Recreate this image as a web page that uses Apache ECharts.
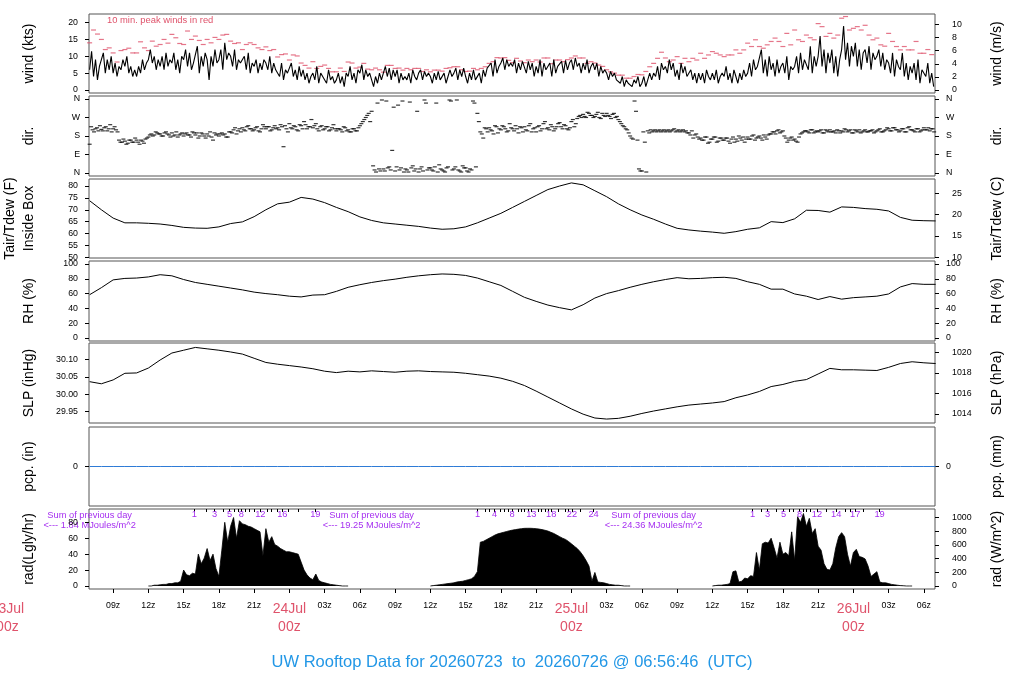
<!DOCTYPE html>
<html>
<head>
<meta charset="utf-8">
<title>UW Rooftop Data</title>
<script src="https://cdn.jsdelivr.net/npm/echarts@6.0.0/dist/echarts.min.js"></script>
<style>
  html, body { margin: 0; padding: 0; background: #fff; }
  #chart { width: 1024px; height: 700px; }
</style>
</head>
<body>
<div id="chart"></div>
<script>
const DAY0 = Date.UTC(2026, 6, 23); // 23Jul 00z
const HOUR = 3600 * 1000;
const X_MIN = Date.UTC(2026, 6, 23, 6, 56, 46);
const X_MAX = Date.UTC(2026, 6, 26, 6, 56, 46);
const MONTHS = ['Jan', 'Feb', 'Mar', 'Apr', 'May', 'Jun', 'Jul', 'Aug', 'Sep', 'Oct', 'Nov', 'Dec'];
const FONT = 'Liberation Sans, Arial, Helvetica, sans-serif';

// all series start at 23Jul 07z (hours counted from 23Jul 00z)
const DATA_START = 7;

// wind speed (kts), every 10 min
const windKts = [
  6, 11.5, 4, 9, 3, 7,   9, 11, 5, 9, 6, 10,   5, 8, 4, 7, 6, 9,   7, 10, 5, 7, 4, 6,
  4, 7, 5, 9, 6, 8,   9, 12, 8, 10, 6, 9,   7, 10, 6, 11, 7, 9,   8, 11, 6, 9, 5, 10,
  9, 12, 7, 11, 6, 8,   8, 13, 5, 10, 7, 11,   9, 3, 10, 7, 12, 8,   9, 12, 6, 14, 9, 11,
  10, 7, 12, 6, 9, 8,   8, 10, 6, 11, 5, 8,   7, 9, 5, 8, 6, 9,   8, 6, 10, 5, 8, 6,
  6, 4, 8, 3, 6, 5,   5, 8, 4, 6, 3, 7,   4, 6, 3, 5, 2, 4,   5, 3, 7, 2, 5, 4,
  4, 2, 6, 3, 4, 2,   3, 5, 2, 4, 1, 5,   4, 7, 3, 5, 2, 6,   5, 7.5, 3, 6, 4, 5,
  3, 1, 4, 2, 5, 3,   5, 7, 4, 6.5, 3, 6,   4, 6, 2, 5, 3, 4,   3, 5, 2, 6, 4, 3,
  5, 6, 3, 5.5, 4, 5,   4, 2, 5, 3, 5.5, 3,   3, 5, 2, 4, 6, 4,   5, 6.5, 3, 6, 4, 6.5,
  4, 2, 5, 3, 6, 3,   3, 5, 2, 6, 4, 6.5,   6, 8, 4, 9, 5, 7,   8, 9.5, 6, 9, 7, 8,
  7, 9, 5, 8, 6, 8.5,   8, 5, 8.5, 6, 8, 4,   7, 5, 9, 4, 8, 6,   6, 8, 4, 9, 5, 7,
  7, 8.5, 5, 8.8, 6, 8,   9, 6, 9.5, 7, 8, 5,   8, 6, 9, 5, 7, 8,   6, 8, 4, 7, 5, 6,
  5, 3, 5.5, 4, 5, 3,   3, 2, 4, 1, 3, 2,   2, 1, 3, 2, 4, 1,   2, 4, 1, 3, 5, 3,
  5, 4, 7, 3, 8, 6,   7, 5, 9, 6, 8, 4,   6, 3, 8, 5, 7, 4,   4, 6, 3, 5, 2, 5,
  3, 5, 2, 6, 4, 3,   5, 3, 6, 2, 4, 5,   4, 7, 3, 5, 2, 6,   4, 2, 5, 3, 6, 4,
  5, 8, 4, 9, 6, 7,   7, 12, 5, 9, 4, 10,   6, 8, 4, 9, 5, 7,   8, 5, 10, 3, 7, 6,
  7, 10, 5, 11, 6, 9,   9, 6, 13, 5, 10, 7,   10, 16, 7, 12, 5, 11,   8, 12, 5, 10, 4, 9,
  12, 19, 9, 14, 7, 13,   10, 14, 7, 12, 6, 11,   12, 8, 13, 6, 11, 9,   10, 12, 7, 11, 6, 9,
  8, 5, 11, 4, 9, 7,   6, 11, 4, 8, 3, 7,   5, 8, 3, 9, 2, 6,   6, 4, 8, 2, 5, 1
];

// 10 min. peak wind (kts), every 20 min
const peakKts = [
  14, 17.8, 16.6,  15, 12, 12.5,  11, 8.3, 11.7,  12, 12.4, 11,  11, 14.3, 12.5,  11.7, 14.5, 13,
  13.5, 15, 13.9,  16.5, 15.5, 13.8,  13.5, 17.5, 15,  16, 14.7, 13.5,  15, 14, 15.6,  15, 16.3, 16.5,
  14.5, 13.8, 14,  12, 13.5, 14,  13.5, 12.5, 12,  12.8, 11.7, 12,  9.8, 10.5, 10.7,  8.9, 10.4, 10.1,
  8, 7.3, 6.5,  8.4, 6.4, 7,  7.4, 6.4, 5.4,  5.4, 6.5, 5.5,  8.3, 8.0, 6.5,  6.8, 7.9, 6.2,
  6.0, 6.5, 6.0,  5.3, 7.3, 7.3,  6.4, 6.5, 5.9,  6.4, 6.0, 6.4,  6.4, 5.5, 6.0,  5.4, 5.9, 5.9,
  5.6, 6.4, 6.6,  6.9, 6.9, 6.0,  5.5, 5.6, 6.4,  6.0, 6.4, 6.9,  7.9, 8.4, 9.6,  9.5, 9.6, 8.8,
  8.1, 9.4, 8.6,  8.1, 8.9, 8.4,  8.9, 8.3, 9.5,  9.5, 7.8, 8.9,  8.9, 8.4, 9.0,  9.5, 10.1, 9.5,
  9.5, 7.9, 8.4,  8.0, 7.4, 7.0,  6.0, 5.4, 5.0,  4.4, 4.4, 3.5,  3.5, 4.0, 4.6,  4.5, 5.5, 6.9,
  7.9, 9.4, 11.2,  9.5, 8.4, 8.9,  9.9, 7.9, 9.4,  8.4, 9.4, 8.9,  10.9, 9.4, 10.4,  11.4, 10.9, 10.4,
  9.9, 10.4, 10.4,  11.9, 10.9, 11.9,  13.9, 12.9, 14.9,  12.9, 12.4, 13.4,  14.4, 15.4, 14.4,  12.9, 16.8, 13.4,
  17.8, 14.9, 14.4,  16.3, 15.5, 14.9,  19.7, 18.8, 15.9,  16.8, 15.4, 16.3,  21.3, 21.8, 17.8,  18.3, 18.8, 17.8,
  19.2, 16.3, 14.9,  15.4, 13.4, 13.0,  16.8, 14.4, 12.9,  11.9, 12.9, 11.9,  11.9, 14.4, 10.9,  10.9, 12.0, 10.5
];

// wind direction (deg), every 15 min on the quarter hour
const windDir = [
  140, 210, 215, 205,  212, 220, 205, 235,  215, 210, 160, 150,  155, 145, 160, 150,
  160, 140, 155, 165,  175, 190, 185, 195,  190, 180, 200, 185,  195, 185, 175, 190,
  180, 195, 185, 200,  185, 170, 195, 180,  190, 200, 160, 185,  180, 195, 190, 175,
  200, 210, 190, 215,  220, 205, 230, 215,  210, 225, 200, 235,  215, 225, 210, 230,
  220, 235, 128, 215,  240, 215, 225, 205,  230, 250, 215, 225,  220, 240, 205, 230,
  215, 225, 210, 235,  205, 215, 200, 220,  210, 200, 215, 205,  230, 250, 270, 290,
  300, 15, 340, 10,  20, 350, 30, 110,  10, 330, 25, 5,  15, 345, 35, 20,
  5, 30, 355, 15,  25, 10, 340, 40,  15, 5, 30, 350,  20, 355, 10, 35,
  25, 5, 15, 340,  290, 200, 170, 215,  220, 205, 230, 195,  210, 225, 200, 240,
  215, 230, 195, 220,  225, 205, 240, 215,  200, 230, 215, 250,  220, 235, 205, 225,
  245, 215, 230, 210,  250, 225, 265, 280,  285, 270, 290, 280,  275, 295, 265, 280,
  290, 275, 285, 270,  260, 240, 225, 210,  180, 165, 300, 20,  10, 150, 205, 210,
  205, 200, 210, 205,  200, 210, 205, 215,  205, 200, 210, 205,  195, 205, 185, 175,
  170, 160, 175, 150,  165, 175, 155, 170,  160, 170, 145, 175,  165, 180, 160, 150,
  175, 165, 185, 170,  180, 160, 175, 185,  190, 200, 205, 195,  205, 170, 160, 175,
  165, 150, 190, 200,  205, 195, 210, 200,  200, 210, 195, 205,  210, 200, 195, 205,
  205, 215, 200, 210,  195, 205, 210, 200,  210, 200, 205, 195,  205, 215, 200, 210,
  215, 205, 220, 210,  205, 215, 200, 225,  210, 200, 215, 205,  220, 210, 205, 215
];
// wind direction (deg), every 15 min, 7.5 min after the quarter hour
const windDirB = [
  225, 200, 220, 230,  205, 225, 215, 200,  225, 200, 150, 165,  140, 160, 150, 170,
  150, 160, 145, 170,  185, 180, 200, 190,  180, 195, 190, 175,  180, 200, 185, 195,
  190, 185, 175, 195,  195, 180, 190, 170,  180, 175, 195, 190,  190, 185, 175, 200,
  195, 220, 205, 200,  210, 225, 215, 205,  220, 205, 215, 225,  225, 205, 220, 215,
  210, 225, 230, 200,  220, 230, 210, 235,  215, 235, 225, 260,  230, 215, 225, 210,
  225, 205, 220, 215,  215, 210, 225, 205,  200, 215, 205, 220,  240, 260, 280, 250,
  35, 5, 20, 355,  10, 25, 15, 320,  30, 15, 350, 20,  5, 25, 10, 300,
  20, 10, 340, 25,  15, 30, 5, 20,  10, 25, 355, 15,  30, 15, 5, 25,
  10, 20, 350, 30,  250, 190, 220, 200,  210, 190, 225, 215,  230, 215, 205, 220,
  205, 215, 225, 200,  210, 230, 200, 220,  225, 205, 240, 215,  210, 225, 215, 240,
  225, 235, 215, 220,  260, 240, 275, 270,  275, 295, 280, 270,  285, 270, 290, 275,
  280, 265, 290, 275,  250, 230, 215, 195,  170, 350, 160, 10,  200, 5, 195, 200,
  210, 205, 200, 210,  205, 200, 210, 200,  210, 205, 200, 195,  185, 170, 190, 165,
  160, 175, 145, 165,  175, 150, 170, 160,  170, 155, 165, 150,  155, 170, 175, 165,
  165, 180, 160, 175,  170, 185, 165, 190,  200, 190, 210, 200,  180, 150, 170, 160,
  155, 175, 195, 205,  200, 210, 195, 205,  205, 195, 210, 200,  200, 205, 210, 195,
  200, 210, 205, 195,  210, 200, 195, 205,  200, 205, 210, 200,  210, 200, 205, 220,
  205, 220, 210, 200,  215, 200, 220, 210,  205, 215, 200, 210,  210, 220, 215, 200
];

// hourly values
const tairF = [
  73.8, 70.0, 66.5, 64.5, 64.5, 64.3, 64.0, 63.4, 62.6, 62.3, 62.2, 62.8, 64.2, 64.9, 67.1, 70.0,
  72.5, 73.2, 75.2, 74.5, 73.0, 71.0, 69.2, 67.0, 65.5, 64.5, 64.0, 63.5, 63.0, 62.3, 61.8, 62.0,
  62.8, 64.5, 66.5, 68.5, 71.0, 73.5, 76.0, 78.5, 80.0, 81.3, 80.5, 78.0, 75.5, 72.5, 70.0, 67.8,
  66.0, 64.0, 62.2, 61.5, 61.0, 60.6, 60.1, 60.8, 61.8, 62.4, 65.0, 64.6, 66.2, 69.8, 69.7, 69.0,
  71.2, 71.0, 70.5, 70.2, 69.5, 66.8, 65.6, 65.4, 65.3
];
const rhPct = [
  58.5, 68, 78.5, 80.5, 81, 82.5, 85.5, 84, 79, 75, 72.5, 70, 67.5, 65, 62, 60,
  58.5, 56.5, 55.5, 58, 58.5, 63, 68.5, 72, 75, 77.5, 79.5, 82, 84, 85.5, 86.5, 86,
  84.5, 81, 76, 71, 63, 55, 49.5, 44.5, 41, 38, 45, 54, 60, 64, 68.5, 72.5,
  76, 79, 81.5, 80, 80.5, 81.5, 82, 80.5, 76, 72.5, 66, 66, 59.5, 56.5, 52, 56,
  52.5, 54.5, 55.5, 56.5, 59.5, 69, 73.5, 72.5, 72.5
];
const slpInHg = [
  30.036, 30.030, 30.041, 30.060, 30.061, 30.075, 30.098, 30.118, 30.126, 30.134, 30.130, 30.126,
  30.121, 30.115, 30.103, 30.091, 30.086, 30.082, 30.078, 30.073, 30.066, 30.062, 30.066, 30.064,
  30.067, 30.065, 30.063, 30.066, 30.067, 30.065, 30.064, 30.063, 30.060, 30.056, 30.052, 30.046,
  30.037, 30.025, 30.009, 29.992, 29.975, 29.958, 29.943, 29.932, 29.929, 29.931, 29.937, 29.945,
  29.952, 29.958, 29.964, 29.969, 29.972, 29.975, 29.979, 29.990, 29.998, 30.008, 30.022, 30.028,
  30.037, 30.042, 30.058, 30.074, 30.070, 30.070, 30.069, 30.068, 30.077, 30.088, 30.093, 30.090,
  30.088
];
const pcpIn = [
  0, 0, 0, 0, 0, 0, 0, 0, 0, 0, 0, 0, 0, 0, 0, 0, 0, 0, 0, 0, 0, 0, 0, 0,
  0, 0, 0, 0, 0, 0, 0, 0, 0, 0, 0, 0, 0, 0, 0, 0, 0, 0, 0, 0, 0, 0, 0, 0,
  0, 0, 0, 0, 0, 0, 0, 0, 0, 0, 0, 0, 0, 0, 0, 0, 0, 0, 0, 0, 0, 0, 0, 0, 0
];

// solar radiation (Lgly/hr), every 15 min from 12z of each day
const radStartHours = [12, 36, 60];
const radDay1 = [
  0, 0, 1, 1, 1.5, 2, 2, 3, 3, 4, 4, 6,
  20, 14, 13, 16, 15, 40, 28, 35, 47, 32, 40, 22,
  12, 45, 80, 55, 75, 86, 60, 82, 78, 77, 75, 74,
  72, 70, 68, 38, 72, 55, 62, 52, 50, 47, 45, 43,
  43, 42, 41, 40, 30, 20, 14, 10, 8, 15, 7, 5,
  4, 3, 2, 1.5, 1, 0.5, 0, 0, 0
];
const radDay2 = [
  0, 0.5, 1, 1.5, 2, 2.5, 3, 3.5, 4, 5, 5.5, 6,
  7, 8, 9, 12, 18, 55, 56, 58, 60, 62, 64, 65.5,
  66.5, 67.5, 68.5, 69.5, 70.2, 70.8, 71.5, 72, 72.4, 72.5, 72.5, 72.3,
  72, 71.5, 70.8, 70, 69, 67.5, 66, 64, 62, 60, 58.5, 56,
  53, 50, 47, 43, 38, 32, 25, 6, 17, 5, 4.5, 4,
  3, 2, 1.5, 1, 1, 0.5, 0, 0, 0
];
const radDay3 = [
  0, 0.5, 1, 1, 1.5, 2, 3, 18, 19, 5, 6, 10,
  9, 13, 12, 42, 20, 53, 55, 54, 60, 48, 35, 55,
  40, 42, 38, 68, 32, 87, 80, 91, 75, 85, 66, 72,
  50, 45, 28, 21, 20, 28, 48, 62, 67, 62, 40, 25,
  42, 46, 37, 36, 34, 25, 12, 15, 18, 5, 4, 4,
  3, 2, 1.5, 1, 0.5, 0.3, 0, 0, 0
];

// running daily radiation sum (MJ/m^2): hours of each whole-number crossing
const radSumTickHours = [
  [15.92, 16.94, 17.64, 18.36, 18.92, 19.32, 19.62, 19.92, 20.26, 20.60, 21.02, 21.53,
   22.15, 22.47, 22.95, 23.40, 23.94, 24.79, 26.21],
  [40.02, 40.68, 41.02, 41.47, 41.95, 42.32, 42.61, 42.95, 43.46, 43.74, 44.02, 44.31,
   44.59, 45.16, 45.44, 45.78, 46.06, 46.29, 46.91, 47.48, 47.76, 48.05, 48.76, 49.89],
  [63.42, 64.13, 64.70, 65.43, 66.06, 66.57, 66.91, 67.42, 67.71, 67.99, 68.33, 68.90,
   69.69, 70.54, 71.31, 71.73, 72.16, 72.87, 74.23]
];
const radSumShown = [
  [1, 3, 5, 8, 12, 16, 19],
  [1, 4, 8, 13, 18, 22, 24],
  [1, 3, 5, 8, 12, 14, 17, 19]
];
const prevDayHours = [7, 31, 55];
const prevDayMJ = ['1.84', '19.25', '24.36'];

// axis ticks
const xTickHours = [9, 12, 15, 18, 21, 24, 27, 30, 33, 36, 39, 42, 45, 48, 51, 54, 57, 60, 63, 66, 69, 72, 75, 78];
const windKtsTicks = [0, 5, 10, 15, 20];
const windMsTicks = [0, 2, 4, 6, 8, 10];
const dirTicks = [0, 90, 180, 270, 360];
const dirLabels = ['N', 'E', 'S', 'W', 'N'];
const tempFTicks = [50, 55, 60, 65, 70, 75, 80];
const tempCTicks = [10, 15, 20, 25];
const rhTicks = [0, 20, 40, 60, 80, 100];
const slpInTicks = [29.95, 30.00, 30.05, 30.10];
const slpHpaTicks = [1014, 1016, 1018, 1020];
const pcpTicks = [0];
const radLyTicks = [0, 20, 40, 60, 80];
const radWTicks = [0, 200, 400, 600, 800, 1000];

const RED = '#DF536B';
const PURPLE = '#A52EF0';
const BLUE = '#2297E6';

const ts = (h) => Math.round(DAY0 + h * HOUR);
const toSeries = (arr, startHour, stepHours) => arr.map((v, i) => [ts(startHour + i * stepHours), v]);

const chartDom = document.getElementById('chart');
const chart = echarts.init(chartDom, null, { renderer: 'canvas' });

const panels = [
  { top: 14, height: 79 },
  { top: 96, height: 80 },
  { top: 179, height: 79 },
  { top: 261, height: 80 },
  { top: 343, height: 80 },
  { top: 427, height: 79 },
  { top: 509, height: 80 }
];

const grid = panels.map((p) => ({
  left: 89, right: 89, top: p.top, height: p.height,
  outerBoundsMode: 'none', containLabel: false,
  show: true, borderColor: '#555', borderWidth: 1, backgroundColor: 'transparent'
}));

function yAx(gridIndex, position, min, max, ticks, name, opts = {}) {
  return {
    type: 'value', gridIndex, position, min, max,
    name, nameLocation: 'middle', nameGap: position === 'left' ? 50 : 53, nameRotate: 90,
    nameTextStyle: { fontSize: 14, color: '#000', fontFamily: FONT, lineHeight: 19 },
    axisLine: { show: false, onZero: false },
    splitLine: { show: false },
    axisTick: { show: true, length: 4, customValues: ticks, lineStyle: { color: '#000' } },
    axisLabel: {
      customValues: ticks, fontSize: 8.8, color: '#000', fontFamily: FONT,
      margin: opts.margin || 11,
      formatter: opts.formatter || ((v) => String(v))
    }
  };
}

const kts2ms = 0.514444;
const f2c = (f) => (f - 32) * 5 / 9;
const in2hpa = 33.8639;
const ly2w = 11.63;
const W = { min: -0.89, max: 22.55 };
const T = { min: 49.7, max: 82.95 };
const S = { min: 29.9177, max: 30.1467 };
const R = { min: -3.77, max: 96.7 };
const dirFmt = (v) => dirLabels[dirTicks.indexOf(v)];

const yAxis = [
  yAx(0, 'left', W.min, W.max, windKtsTicks, 'wind (kts)'),
  yAx(0, 'right', W.min * kts2ms, W.max * kts2ms, windMsTicks, 'wind (m/s)', { margin: 17 }),
  yAx(1, 'left', -14.4, 374.4, dirTicks, 'dir.', { formatter: dirFmt, margin: 9 }),
  yAx(1, 'right', -14.4, 374.4, dirTicks, 'dir.', { formatter: dirFmt, margin: 11 }),
  yAx(2, 'left', T.min, T.max, tempFTicks, 'Tair/Tdew (F)\nInside Box'),
  yAx(2, 'right', f2c(T.min), f2c(T.max), tempCTicks, 'Tair/Tdew (C)', { margin: 17 }),
  yAx(3, 'left', -4, 104, rhTicks, 'RH (%)'),
  yAx(3, 'right', -4, 104, rhTicks, 'RH (%)', { margin: 11 }),
  yAx(4, 'left', S.min, S.max, slpInTicks, 'SLP (inHg)', { formatter: (v) => v.toFixed(2) }),
  yAx(4, 'right', S.min * in2hpa, S.max * in2hpa, slpHpaTicks, 'SLP (hPa)', { margin: 17 }),
  yAx(5, 'left', -1, 1, pcpTicks, 'pcp. (in)'),
  yAx(5, 'right', -1, 1, pcpTicks, 'pcp. (mm)', { margin: 11 }),
  yAx(6, 'left', R.min, R.max, radLyTicks, 'rad(Lgly/hr)'),
  yAx(6, 'right', R.min * ly2w, R.max * ly2w, radWTicks, 'rad (W/m^2)', { margin: 17 })
];

// x axes are plain value axes holding UTC milliseconds
const xAxis = panels.map((p, i) => ({
  type: 'value', gridIndex: i, min: X_MIN, max: X_MAX, show: false,
  axisLine: { onZero: false }
}));

// bottom time axis
xAxis[6] = {
  type: 'value', gridIndex: 6, min: X_MIN, max: X_MAX, position: 'bottom',
  axisLine: { show: false, onZero: false },
  splitLine: { show: false },
  axisTick: { show: true, length: 4, customValues: xTickHours.map(ts), lineStyle: { color: '#000' } },
  axisLabel: {
    customValues: xTickHours.map(ts), margin: 11, hideOverlap: false,
    formatter: (v) => {
      const d = new Date(v);
      const h = d.getUTCHours();
      if (h === 0) return `{d|${d.getUTCDate()}${MONTHS[d.getUTCMonth()]}}\n{d|00z}`;
      return `{t|${String(h).padStart(2, '0')}z}`;
    },
    rich: {
      t: { fontSize: 8.8, color: '#000', fontFamily: FONT, lineHeight: 11 },
      d: { fontSize: 14, color: RED, fontFamily: FONT, lineHeight: 18 }
    }
  }
};

// top of radiation panel: running daily sums (labels, then ticks shifted inside the frame)
const sumTickTimes = [];
const sumLabelTimes = [];
const sumLabelText = new Map();
radSumTickHours.forEach((hours, d) => {
  hours.forEach((h, k) => {
    const t = ts(h);
    sumTickTimes.push(t);
    if (radSumShown[d].includes(k + 1)) {
      sumLabelTimes.push(t);
      sumLabelText.set(t, String(k + 1));
    }
  });
});
xAxis.push({
  type: 'value', gridIndex: 6, min: X_MIN, max: X_MAX, position: 'top',
  axisLine: { show: false, onZero: false },
  splitLine: { show: false },
  axisTick: { show: false },
  axisLabel: {
    inside: true, margin: 1, customValues: sumLabelTimes, hideOverlap: false,
    fontSize: 9.3, color: PURPLE, fontFamily: FONT,
    formatter: (v) => sumLabelText.get(v) || ''
  }
});
xAxis.push({
  type: 'value', gridIndex: 6, min: X_MIN, max: X_MAX, position: 'top', offset: -3,
  axisLine: { show: false, onZero: false },
  splitLine: { show: false },
  axisLabel: { show: false },
  axisTick: { show: true, length: 3, customValues: sumTickTimes, lineStyle: { color: '#000' } }
});

const radSeries = [radDay1, radDay2, radDay3].map((arr, d) => ({
  type: 'line', xAxisIndex: 6, yAxisIndex: 12,
  data: toSeries(arr, radStartHours[d], 0.25),
  showSymbol: false, symbol: 'none',
  lineStyle: { color: '#000', width: 0.8 },
  areaStyle: { color: '#000', opacity: 1 }
}));

const option = {
  animation: false,
  backgroundColor: '#fff',
  title: {
    text: 'UW Rooftop Data for 20260723  to  20260726 @ 06:56:46  (UTC)',
    left: 'center', top: 649,
    textStyle: { color: BLUE, fontSize: 16.5, fontWeight: 'normal', fontFamily: FONT }
  },
  grid,
  xAxis,
  yAxis,
  series: [
    {
      type: 'line', xAxisIndex: 0, yAxisIndex: 0,
      data: toSeries(windKts, DATA_START, 1 / 6),
      showSymbol: false, symbol: 'none',
      lineStyle: { color: '#000', width: 1.1 }
    },
    {
      type: 'scatter', xAxisIndex: 0, yAxisIndex: 0,
      data: toSeries(peakKts, DATA_START, 1 / 3),
      symbol: 'rect', symbolSize: [5, 1.2],
      itemStyle: { color: RED }
    },
    {
      type: 'scatter', xAxisIndex: 1, yAxisIndex: 2,
      data: toSeries(windDir, DATA_START, 0.25).concat(toSeries(windDirB, DATA_START + 0.125, 0.25)),
      symbol: 'rect', symbolSize: [4, 1.2],
      itemStyle: { color: '#000' }
    },
    {
      type: 'line', xAxisIndex: 2, yAxisIndex: 4,
      data: toSeries(tairF, DATA_START, 1),
      showSymbol: false, symbol: 'none',
      lineStyle: { color: '#000', width: 1 }
    },
    {
      type: 'line', xAxisIndex: 3, yAxisIndex: 6,
      data: toSeries(rhPct, DATA_START, 1),
      showSymbol: false, symbol: 'none',
      lineStyle: { color: '#000', width: 1 }
    },
    {
      type: 'line', xAxisIndex: 4, yAxisIndex: 8,
      data: toSeries(slpInHg, DATA_START, 1),
      showSymbol: false, symbol: 'none',
      lineStyle: { color: '#000', width: 1 }
    },
    {
      type: 'line', xAxisIndex: 5, yAxisIndex: 10,
      data: toSeries(pcpIn, DATA_START, 1),
      showSymbol: false, symbol: 'none',
      lineStyle: { color: '#2E7BD6', width: 1 }
    },
    ...radSeries
  ]
};

chart.setOption(option);

// text annotations placed on the time scale
const xPix = (h) => chart.convertToPixel({ xAxisIndex: 6 }, ts(h));
const txt = (text, x, y, color, size, align) => ({
  type: 'text', x, y, silent: true,
  style: { text, fill: color, fontSize: size, fontFamily: FONT, align: align || 'center', verticalAlign: 'middle' }
});
const graphic = [
  txt('10 min. peak winds in red', 107, 20, RED, 9.4, 'left'),
  txt('23Jul', xPix(0), 609.5, RED, 14),
  txt('00z', xPix(0), 627, RED, 14)
];
prevDayHours.forEach((h, i) => {
  graphic.push(txt('Sum of previous day', xPix(h), 515, PURPLE, 9.3));
  graphic.push(txt(`<--- ${prevDayMJ[i]} MJoules/m^2`, xPix(h), 525.7, PURPLE, 9.3));
});
chart.setOption({ graphic });

window.addEventListener('resize', () => chart.resize());
</script>
</body>
</html>
